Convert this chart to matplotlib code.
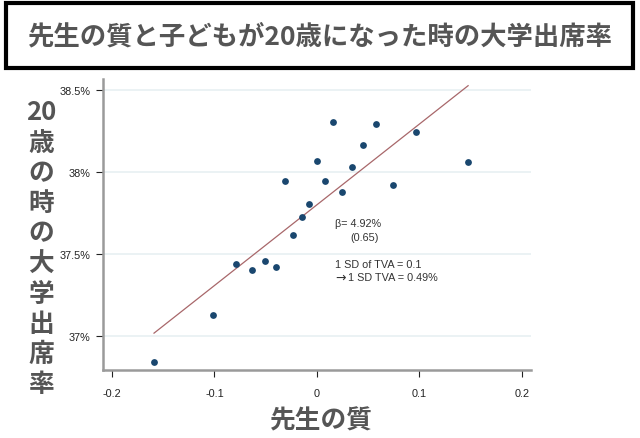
import numpy as np
import matplotlib.pyplot as plt
from matplotlib.patches import Rectangle

plt.rcParams['font.family'] = ['Noto Sans CJK JP', 'DejaVu Sans']

# binned scatter: teacher quality vs. college attendance at age 20 (%)
tva = [-0.159, -0.1015, -0.079, -0.0634, -0.0507, -0.040, -0.031, -0.023,
       -0.0146, -0.0078, 0.0, 0.0078, 0.0156, 0.0244, 0.0341, 0.045,
       0.0578, 0.074, 0.0966, 0.1476]
college = [36.84, 37.128, 37.44, 37.40, 37.46, 37.42, 37.945, 37.616,
           37.726, 37.805, 38.067, 37.945, 38.305, 37.878, 38.03, 38.165,
           38.29, 37.92, 38.244, 38.06]

beta = 4.92
intercept = 37.80

xticks = [-0.2, -0.1, 0, 0.1, 0.2]
xticklabels = ['-0.2', '-0.1', '0', '0.1', '0.2']
yticks = [37.0, 37.5, 38.0, 38.5]
yticklabels = ['37%', '37.5%', '38%', '38.5%']

title = '先生の質と子どもが20歳になった時の大学出席率'
ylabel_chars = ['20', '歳', 'の', '時', 'の', '大', '学', '出', '席', '率']
xlabel = '先生の質'

fig = plt.figure(figsize=(6.4, 4.39), dpi=100)
ax = fig.add_axes([103 / 640, 1 - 371 / 439, 428 / 640, 291 / 439])

# grid lines first
for yv in yticks:
    ax.axhline(yv, color='#e8f0f2', lw=1.2, zorder=0)

# fit line over the range of the bins
fit_x = np.array([min(tva), max(tva)])
ax.plot(fit_x, intercept + beta * fit_x, color='#a8676a', lw=0.9, zorder=2)
ax.scatter(tva, college, s=24, color='#1a476f', zorder=3, linewidths=0)

ax.set_xlim(-0.2088, 0.209)
ax.set_ylim(36.793, 38.567)
ax.set_xticks(xticks)
ax.set_xticklabels(xticklabels)
ax.set_yticks(yticks)
ax.set_yticklabels(yticklabels)
ax.tick_params(labelsize=7.8, colors='#222222', length=5, width=0.8)
ax.tick_params(axis='y', pad=4)
ax.tick_params(axis='x', pad=8)
for lab in ax.get_xticklabels() + ax.get_yticklabels():
    lab.set_family(['Liberation Sans', 'DejaVu Sans'])

for side in ['top', 'right']:
    ax.spines[side].set_visible(False)
ax.spines['left'].set_color('#9a9a9a')
ax.spines['left'].set_linewidth(1.8)
ax.spines['bottom'].set_color('#9a9a9a')
ax.spines['bottom'].set_linewidth(1.8)

# annotations
ann = dict(fontsize=7.8, color='#333333', family=['Liberation Sans', 'DejaVu Sans'],
           va='center', ha='left')
ax.text(0.0175, 37.69, 'β= 4.92%', **ann)
ax.text(0.033, 37.605, '(0.65)', **ann)
ax.text(0.0175, 37.44, '1 SD of TVA = 0.1', **ann)
ax.text(0.0175, 37.36, '→', fontsize=9, color='#333333', family='DejaVu Sans',
        va='center', ha='left')
ax.text(0.0305, 37.36, '1 SD TVA = 0.49%', **ann)

# title box
fig.patches.append(Rectangle((6 / 640, 1 - 69 / 439), 627 / 640, 65 / 439,
                             transform=fig.transFigure, fill=False,
                             edgecolor='black', lw=3))
fig.text(0.5, 1 - 37 / 439, title, ha='center', va='center', fontsize=19,
         fontweight='bold', color='#555555')

# stacked vertical y label
for i, ch in enumerate(ylabel_chars):
    fig.text(41 / 640, 1 - (113 + i * 30.2) / 439, ch, ha='center', va='center',
             fontsize=18.5, fontweight='bold', color='#555555')

fig.text(321 / 640, 1 - 421 / 439, xlabel, ha='center', va='center',
         fontsize=18.5, fontweight='bold', color='#555555')

fig.savefig('out.png', dpi=100, facecolor='white')
